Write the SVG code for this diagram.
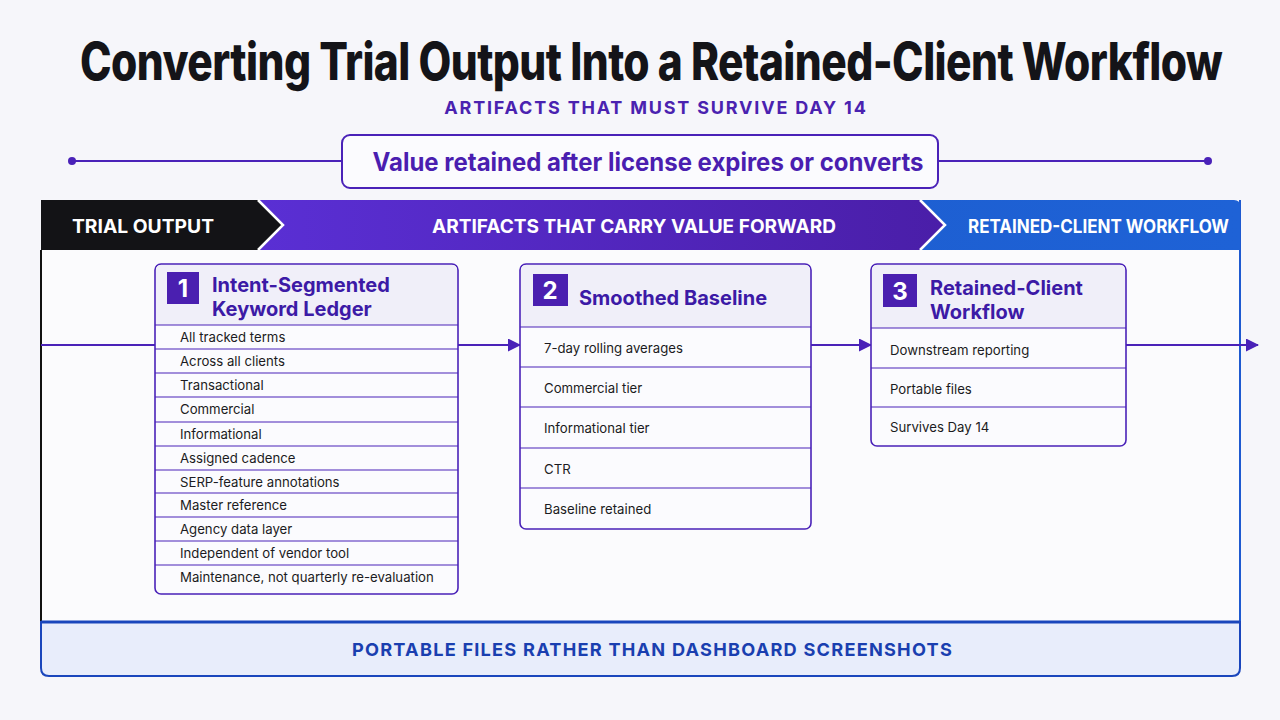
<svg xmlns="http://www.w3.org/2000/svg" width="1280" height="720" viewBox="0 0 1280 720">
<defs>
<style>
.t{font-family:Inter,"Liberation Sans",sans-serif}
.hd{font-family:Inter,"Liberation Sans",sans-serif;font-weight:700;font-size:20px;fill:#3c1aa6}
.row{font-family:Inter,"Liberation Sans",sans-serif;font-size:13.2px;fill:#1b1b22}
.box{fill:#fbfbfe;stroke:#4a22b8;stroke-width:1.6}
.sep{stroke:#4a22b8;stroke-width:1.2}
.badge{fill:#4a1fb0}
.bn{font-family:Inter,"Liberation Sans",sans-serif;font-weight:700;font-size:24px;fill:#fff;text-anchor:middle}
.band{font-family:Inter,"Liberation Sans",sans-serif;font-weight:700;font-size:19px;fill:#fff}
.flow{stroke:#4a22b8;stroke-width:2;fill:none}
</style>
<linearGradient id="pg" x1="0" x2="1" y1="0" y2="0">
<stop offset="0" stop-color="#5a2fd4"/>
<stop offset="1" stop-color="#4a1ea8"/>
</linearGradient>
<linearGradient id="bg" x1="0" x2="1" y1="0" y2="0">
<stop offset="0" stop-color="#1c58c8"/>
<stop offset="1" stop-color="#1e62d6"/>
</linearGradient>
<marker id="ah" markerWidth="13" markerHeight="13" refX="12" refY="6.5" orient="auto" markerUnits="userSpaceOnUse">
<path d="M0,0 L13,6.5 L0,13 Z" fill="#4a22b8"/>
</marker>
</defs>
<rect width="1280" height="720" fill="#f6f6fa"/>

<g id="title">
<text class="t" transform="translate(651,80) scale(1,1.36)" x="0" y="0" text-anchor="middle" font-size="38" font-weight="800" fill="#141418" letter-spacing="-0.5" textLength="1142" lengthAdjust="spacingAndGlyphs">Converting Trial Output Into a Retained-Client Workflow</text>
<text class="t" x="656" y="114" text-anchor="middle" font-size="18" font-weight="700" fill="#4a22b0" letter-spacing="1.8">ARTIFACTS THAT MUST SURVIVE DAY 14</text>
</g>

<g id="value-banner">
<line x1="72" y1="161" x2="342" y2="161" stroke="#4a22b8" stroke-width="2"/>
<line x1="938" y1="161" x2="1208" y2="161" stroke="#4a22b8" stroke-width="2"/>
<circle cx="72" cy="161" r="4" fill="#4a22b8"/>
<circle cx="1208" cy="161" r="4" fill="#4a22b8"/>
<rect x="342" y="135" width="596" height="53" rx="8" fill="#fbfbfe" stroke="#4a22b8" stroke-width="2"/>
<text class="t" x="648" y="171" text-anchor="middle" font-size="25" font-weight="700" fill="#4a1eb0" textLength="551" lengthAdjust="spacingAndGlyphs">Value retained after license expires or converts</text>
</g>

<g id="frame">
<rect x="41" y="250" width="1199" height="372" fill="#fbfbfd"/>
<line x1="41" y1="250" x2="41" y2="622" stroke="#111" stroke-width="2"/>
<line x1="1240" y1="200" x2="1240" y2="622" stroke="#1e5ad0" stroke-width="2"/>
</g>

<g id="phase-band">
<path d="M41,200 L1234,200 Q1240,200 1240,206 L1240,250 L41,250 Z" fill="url(#bg)"/>
<path d="M258,200 L920,200 L945,225 L920,250 L258,250 L283,225 Z" fill="url(#pg)"/>
<path d="M41,200 L258,200 L283,225 L258,250 L41,250 Z" fill="#131316"/>
<path d="M258,200 L283,225 L258,250" fill="none" stroke="#fff" stroke-width="2.5"/>
<path d="M920,200 L945,225 L920,250" fill="none" stroke="#fff" stroke-width="2.5"/>
<text class="band" x="72" y="233" textLength="142" lengthAdjust="spacingAndGlyphs">TRIAL OUTPUT</text>
<text class="band" x="432" y="233" textLength="404" lengthAdjust="spacingAndGlyphs">ARTIFACTS THAT CARRY VALUE FORWARD</text>
<text class="band" x="968" y="233" font-size="18" textLength="261" lengthAdjust="spacingAndGlyphs">RETAINED-CLIENT WORKFLOW</text>
</g>

<g id="footer">
<path d="M41,622 L1240,622 L1240,668 Q1240,676 1232,676 L49,676 Q41,676 41,668 Z" fill="#e8edfb" stroke="#1a46bc" stroke-width="2"/>
<line x1="41" y1="622" x2="1240" y2="622" stroke="#1a46bc" stroke-width="3"/>
<text class="t" x="352" y="656" font-size="18" font-weight="700" fill="#1a3fb0" letter-spacing="1.2" textLength="601" lengthAdjust="spacingAndGlyphs">PORTABLE FILES RATHER THAN DASHBOARD SCREENSHOTS</text>
</g>

<g id="connectors">
<line class="flow" x1="41" y1="345" x2="155" y2="345"/>
<line class="flow" x1="458" y1="345" x2="520" y2="345" marker-end="url(#ah)"/>
<line class="flow" x1="811" y1="345" x2="871" y2="345" marker-end="url(#ah)"/>
<line class="flow" x1="1126" y1="345" x2="1258" y2="345" marker-end="url(#ah)"/>
</g>

<g id="node-1">
<rect class="box" x="155" y="264" width="303" height="330" rx="6"/>
<path d="M156,325 L156,270 Q156,265 161,265 L452,265 Q457,265 457,270 L457,325 Z" fill="#f0eff9"/>
<rect class="badge" x="167" y="272" width="32" height="32"/>
<text class="bn" x="183" y="297">1</text>
<text class="hd" x="212" y="292">Intent-Segmented</text>
<text class="hd" x="212" y="316">Keyword Ledger</text>
<g class="sep">
<line x1="155" y1="325" x2="458" y2="325"/>
<line x1="155" y1="349" x2="458" y2="349"/>
<line x1="155" y1="373" x2="458" y2="373"/>
<line x1="155" y1="397" x2="458" y2="397"/>
<line x1="155" y1="422" x2="458" y2="422"/>
<line x1="155" y1="446" x2="458" y2="446"/>
<line x1="155" y1="470" x2="458" y2="470"/>
<line x1="155" y1="493" x2="458" y2="493"/>
<line x1="155" y1="517" x2="458" y2="517"/>
<line x1="155" y1="541" x2="458" y2="541"/>
<line x1="155" y1="565" x2="458" y2="565"/>
</g>
<text class="row" x="180" y="342">All tracked terms</text>
<text class="row" x="180" y="366">Across all clients</text>
<text class="row" x="180" y="390">Transactional</text>
<text class="row" x="180" y="414">Commercial</text>
<text class="row" x="180" y="439">Informational</text>
<text class="row" x="180" y="463">Assigned cadence</text>
<text class="row" x="180" y="487">SERP-feature annotations</text>
<text class="row" x="180" y="510">Master reference</text>
<text class="row" x="180" y="534">Agency data layer</text>
<text class="row" x="180" y="558">Independent of vendor tool</text>
<text class="row" x="180" y="582">Maintenance, not quarterly re-evaluation</text>
</g>

<g id="node-2">
<rect class="box" x="520" y="264" width="291" height="265" rx="6"/>
<path d="M521,327 L521,270 Q521,265 526,265 L805,265 Q810,265 810,270 L810,327 Z" fill="#f0eff9"/>
<rect class="badge" x="533" y="274" width="35" height="32"/>
<text class="bn" x="550" y="299">2</text>
<text class="hd" x="579" y="305">Smoothed Baseline</text>
<g class="sep">
<line x1="520" y1="327" x2="811" y2="327"/>
<line x1="520" y1="367" x2="811" y2="367"/>
<line x1="520" y1="407" x2="811" y2="407"/>
<line x1="520" y1="448" x2="811" y2="448"/>
<line x1="520" y1="488" x2="811" y2="488"/>
</g>
<text class="row" x="544" y="353">7-day rolling averages</text>
<text class="row" x="544" y="393">Commercial tier</text>
<text class="row" x="544" y="433">Informational tier</text>
<text class="row" x="544" y="474">CTR</text>
<text class="row" x="544" y="514">Baseline retained</text>
</g>

<g id="node-3">
<rect class="box" x="871" y="264" width="255" height="182" rx="6"/>
<path d="M872,328 L872,270 Q872,265 877,265 L1120,265 Q1125,265 1125,270 L1125,328 Z" fill="#f0eff9"/>
<rect class="badge" x="883" y="274" width="34" height="33"/>
<text class="bn" x="900" y="300">3</text>
<text class="hd" x="930" y="295">Retained-Client</text>
<text class="hd" x="930" y="319">Workflow</text>
<g class="sep">
<line x1="871" y1="328" x2="1126" y2="328"/>
<line x1="871" y1="368" x2="1126" y2="368"/>
<line x1="871" y1="407" x2="1126" y2="407"/>
</g>
<text class="row" x="890" y="355">Downstream reporting</text>
<text class="row" x="890" y="394">Portable files</text>
<text class="row" x="890" y="432">Survives Day 14</text>
</g>
</svg>
